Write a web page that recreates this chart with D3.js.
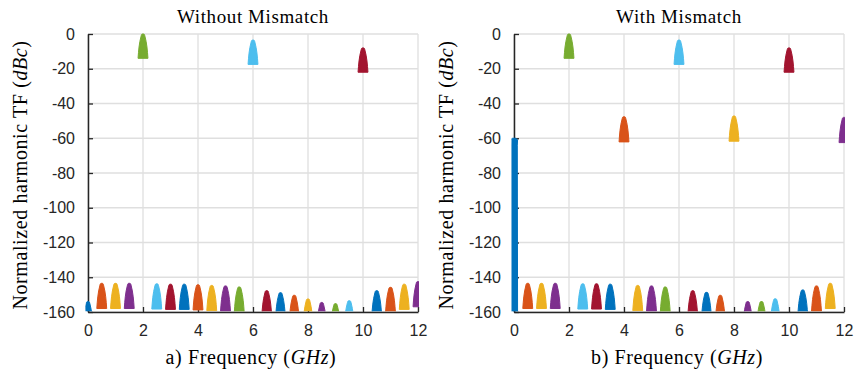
<!DOCTYPE html>
<html>
<head>
<meta charset="utf-8">
<script src="https://cdn.jsdelivr.net/npm/d3@7"></script>
<style>
  body { margin: 0; background: #fff; }
  svg { display: block; }
</style>
</head>
<body>
<svg id="chart" width="856" height="376"></svg>
<script>
// harmonic frequencies (GHz)
const freqs = [0, 0.5, 1, 1.5, 2, 2.5, 3, 3.5, 4, 4.5, 5, 5.5, 6, 6.5, 7, 7.5, 8, 8.5, 9, 9.5, 10, 10.5, 11, 11.5, 12];

// peak of each harmonic transfer function (dBc)
const peaksA = [-154, -143.5, -143.5, -143.5, 0, -143.8, -144, -144, -144.3, -144.7, -145, -145.6, -3.5,
  -147.7, -148.9, -150.4, -152.5, -154.5, -155.2, -153.5, -8, -147.7, -145.8, -144, -142.5];
const peaksB = [-60, -143.5, -143.5, -143.5, 0, -143.8, -143.8, -144, -47.6, -144.7, -145, -145.6, -3.5,
  -147.7, -148.7, -150.4, -47.2, -154, -154, -152.4, -8, -147.3, -145, -143.5, -48];

// how far each lobe drops below its peak (dB)
const depthA = [14.5, 14.5, 14.5, 14.5, 14, 14.5, 14.5, 14.5, 14.5, 14.5, 14.5, 14.5, 14,
  14.5, 14.5, 14.5, 14.5, 14.5, 14.5, 14.5, 14, 14.5, 14.5, 14.5, 14.5];
const depthB = [100, 14.5, 14.5, 14.5, 14, 14.5, 14.5, 14.5, 14.5, 14.5, 14.5, 14.5, 14,
  14.5, 14.5, 14.5, 14.5, 14.5, 14.5, 14.5, 14, 14.5, 14.5, 14.5, 14.5];

// lobe outline: [fraction of depth, half width in GHz]
const lobeShape = [[0, 0.02], [0.02, 0.05], [0.07, 0.065], [1, 0.18]];
// long DC skirt keeps a near constant width
const dcShape = [[0, 0.05], [0.01, 0.13], [0.04, 0.12], [1, 0.13]];

const xTicks = [0, 2, 4, 6, 8, 10, 12];
const yTicks = [0, -20, -40, -60, -80, -100, -120, -140, -160];
const colorOrder = ["#0072BD", "#D95319", "#EDB120", "#7E2F8E", "#77AC30", "#4DBEEE", "#A2142F"];

const panels = [
  {left: 88, title: "Without Mismatch", xlabel: "a) Frequency ", peaks: peaksA, depth: depthA},
  {left: 514, title: "With Mismatch", xlabel: "b) Frequency ", peaks: peaksB, depth: depthB}
];

var svg = d3.select("#chart");
var marginTop = 34, w = 330, h = 278;
var serif = "Liberation Serif, serif";

var color = d3.scaleOrdinal().domain(d3.range(7)).range(colorOrder);

panels.forEach((p, pi) => {
  var x = d3.scaleLinear().domain([0, 12]).range([0, w]);
  var y = d3.scaleLinear().domain([-160, 0]).range([h, 0]);

  var g = svg.append("g").attr("transform", "translate(" + p.left + "," + marginTop + ")");

  // grid
  g.append("g").selectAll("line").data(xTicks).enter().append("line")
    .attr("x1", d => x(d)).attr("x2", d => x(d))
    .attr("y1", 0).attr("y2", h)
    .style("stroke", "#dfdfdf").style("stroke-width", 1.3);
  g.append("g").selectAll("line").data(yTicks).enter().append("line")
    .attr("x1", 0).attr("x2", w)
    .attr("y1", d => y(d)).attr("y2", d => y(d))
    .style("stroke", "#dfdfdf").style("stroke-width", 1.3);

  // axes
  var xAxis = g.append("g").attr("transform", "translate(0," + h + ")")
    .call(d3.axisBottom(x).tickValues(xTicks).tickFormat(d => String(d))
      .tickSizeInner(-5).tickSizeOuter(0).tickPadding(13));
  var yAxis = g.append("g")
    .call(d3.axisLeft(y).tickValues(yTicks).tickFormat(d => String(d))
      .tickSizeInner(-5).tickSizeOuter(0).tickPadding(13));
  [xAxis, yAxis].forEach(a => {
    a.select(".domain").style("stroke", "#262626").style("stroke-width", 1.5);
    a.selectAll(".tick line").style("stroke", "#262626").style("stroke-width", 1.3);
    a.selectAll(".tick text").style("font-family", "Liberation Sans, Arial, sans-serif")
      .style("font-size", "16px").style("fill", "#262626");
  });

  // clip
  var clipId = "clip" + pi;
  g.append("clipPath").attr("id", clipId).append("rect")
    .attr("x", -2.5).attr("y", -10).attr("width", w + 3.5).attr("height", h + 9.2);

  // lobes (drawn over the axis lines, as in the original)
  var area = d3.area()
    .y(d => y(d.db))
    .x0(d => x(d.f - d.hw))
    .x1(d => x(d.f + d.hw))
    .curve(d3.curveMonotoneY);

  var lobes = freqs.map((f, i) => {
    var shape = p.depth[i] > 50 ? dcShape : lobeShape;
    var pts = shape.map(s => ({f: f, db: p.peaks[i] - s[0] * p.depth[i], hw: s[1]}));
    return {i: i, pts: pts};
  });

  g.append("g").attr("clip-path", "url(#" + clipId + ")")
    .selectAll("path").data(lobes).enter().append("path")
    .attr("d", d => area(d.pts))
    .style("fill", d => color(d.i % 7))
    .style("stroke", d => color(d.i % 7))
    .style("stroke-width", 1);

  // title
  svg.append("text")
    .attr("x", p.left + w / 2).attr("y", 23)
    .attr("text-anchor", "middle")
    .style("font-family", serif).style("font-size", "19px").style("letter-spacing", "0.6px")
    .text(p.title);

  // x label
  var xl = svg.append("text")
    .attr("x", p.left + w / 2 - 2).attr("y", 364)
    .attr("text-anchor", "middle")
    .style("font-family", serif).style("font-size", "20px").style("letter-spacing", "0.6px");
  xl.append("tspan").text(p.xlabel + "(");
  xl.append("tspan").style("font-style", "italic").text("GHz");
  xl.append("tspan").text(")");

  // y label
  var yl = svg.append("text")
    .attr("transform", "translate(" + (p.left - 61) + "," + (marginTop + h / 2 + 2) + ")rotate(-90)")
    .attr("text-anchor", "middle")
    .style("font-family", serif).style("font-size", "20px").style("letter-spacing", "0.6px");
  yl.append("tspan").text("Normalized harmonic TF (");
  yl.append("tspan").style("font-style", "italic").text("dBc");
  yl.append("tspan").text(")");
});
</script>
</body>
</html>
